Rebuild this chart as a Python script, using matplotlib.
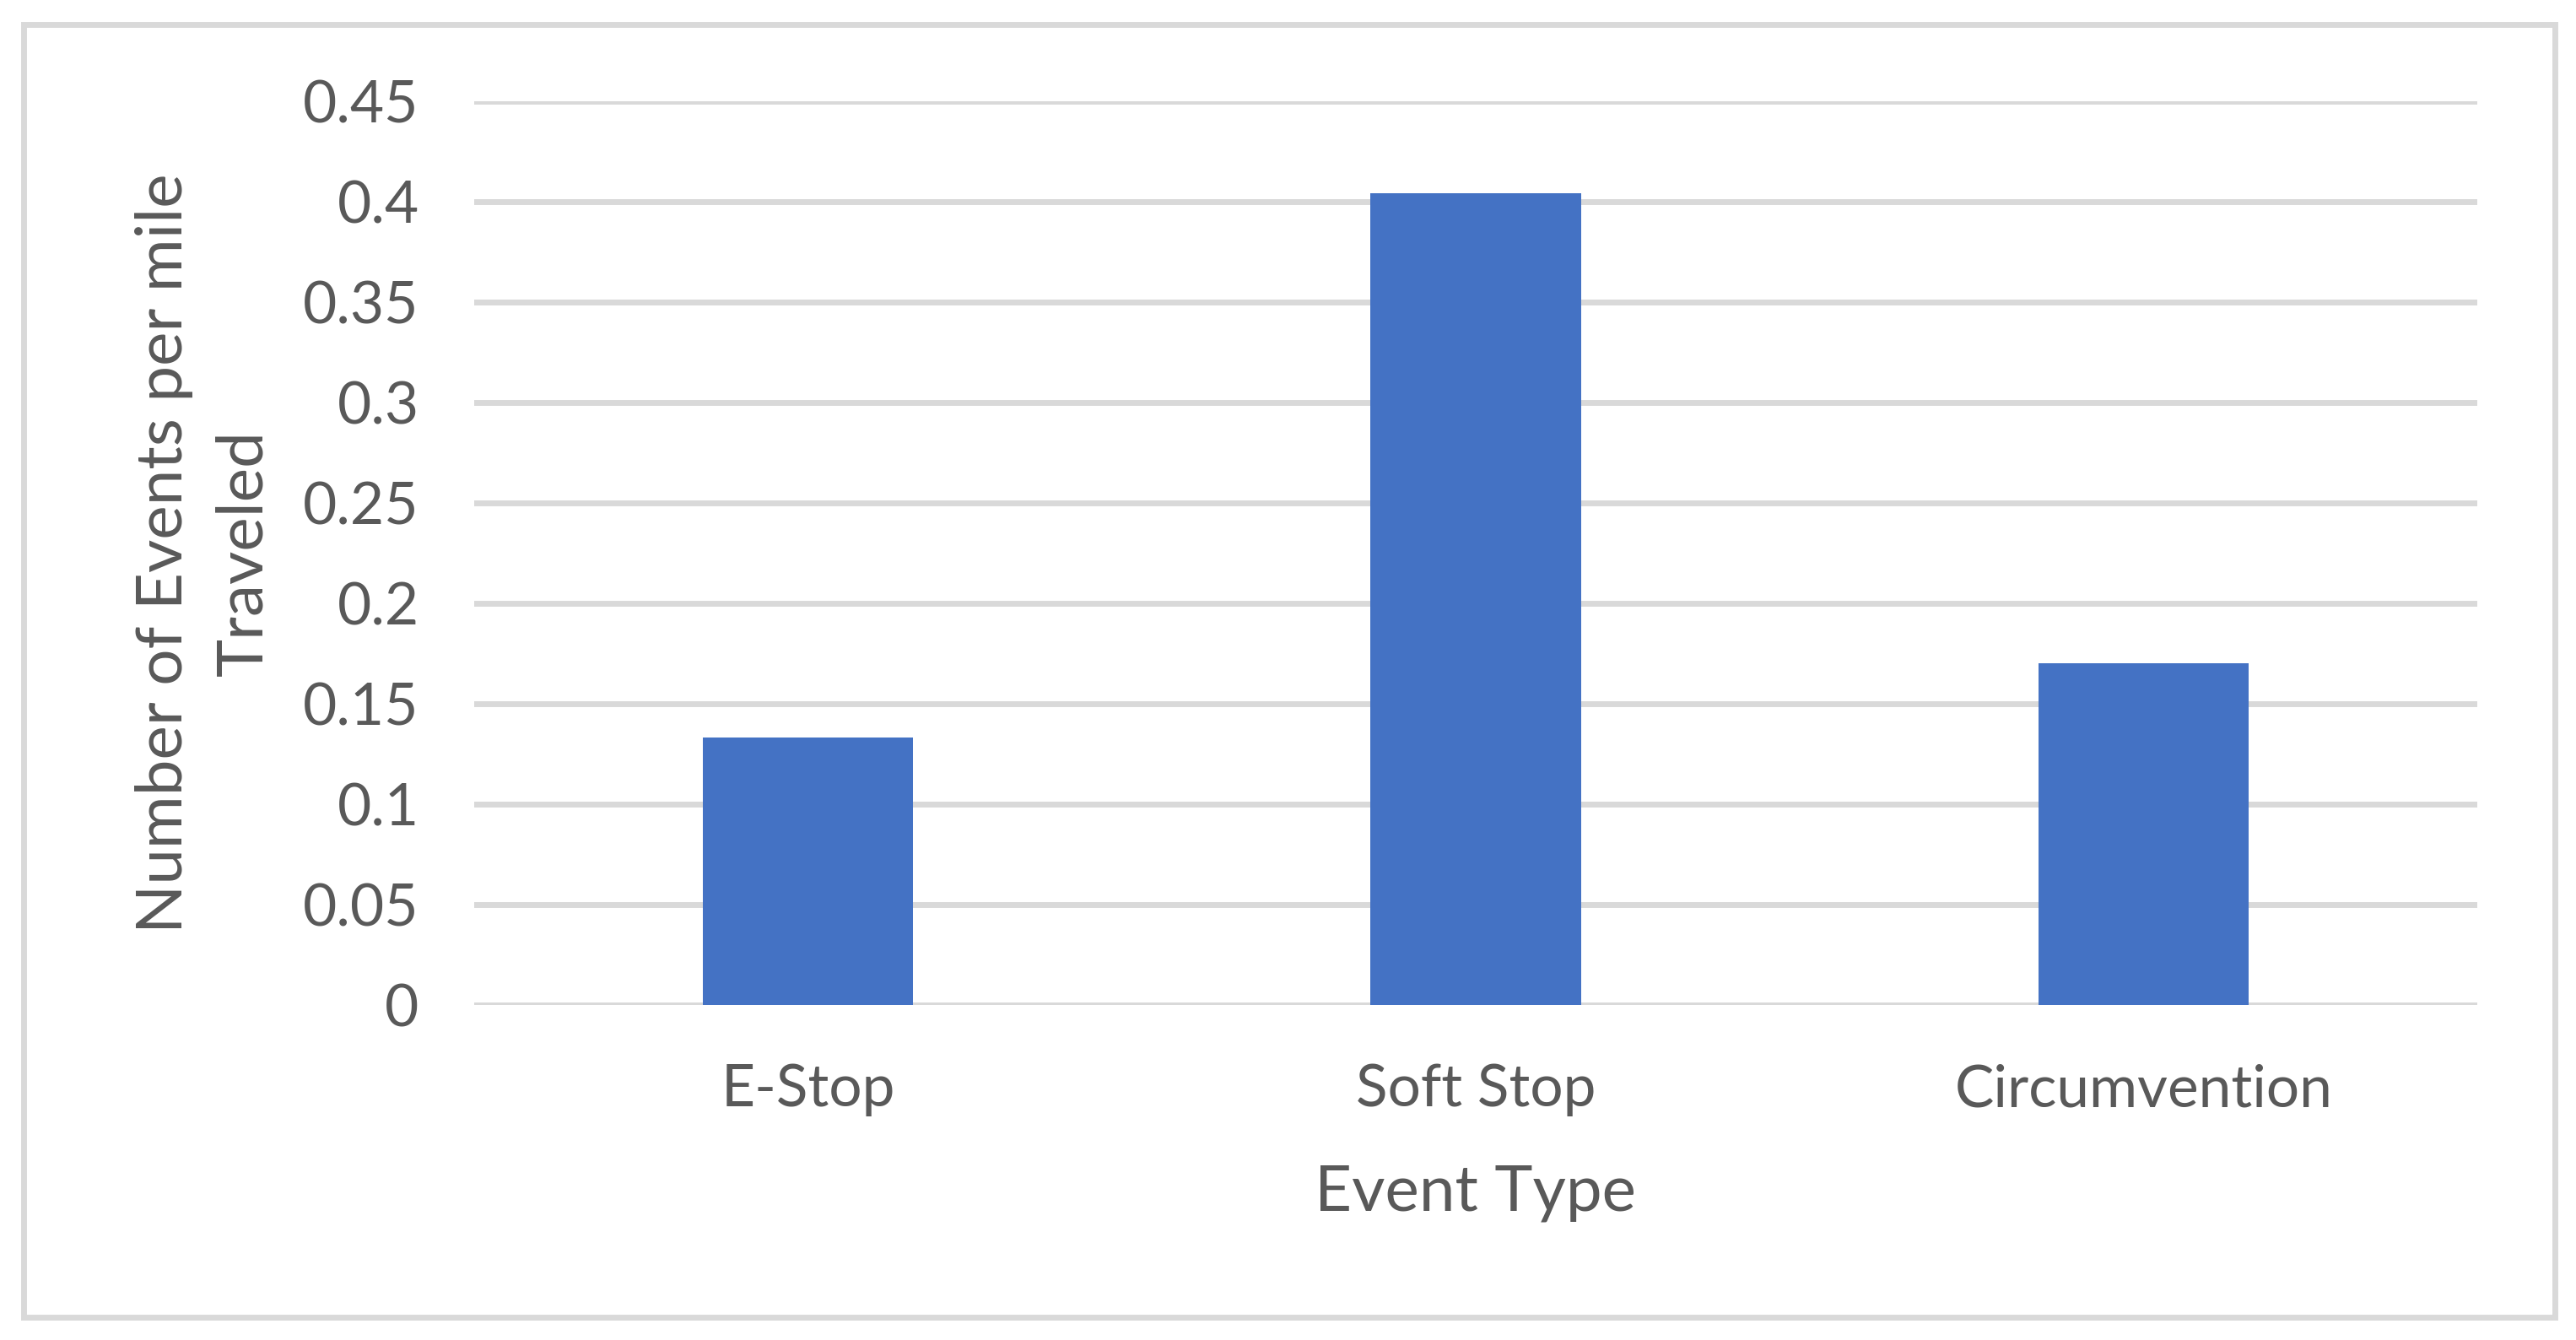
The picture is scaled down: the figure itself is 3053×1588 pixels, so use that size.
import matplotlib
matplotlib.use("Agg")
import matplotlib.pyplot as plt
from matplotlib.patches import Rectangle

categories = ["E-Stop", "Soft Stop", "Circumvention"]
values = [0.133, 0.404, 0.170]
yticks = [0, 0.05, 0.1, 0.15, 0.2, 0.25, 0.3, 0.35, 0.4, 0.45]
ytick_labels = ["0", "0.05", "0.1", "0.15", "0.2", "0.25", "0.3", "0.35", "0.4", "0.45"]

plt.rcParams['font.family'] = ['Lato', 'DejaVu Sans']
text_col = '#595959'
grid_col = '#d9d9d9'

fig = plt.figure(figsize=(30.53, 15.88), dpi=100)
ax = fig.add_axes([562/3053, 1-1191/1588, (2936-562)/3053, (1191-120)/1588])

x = range(len(categories))
ax.bar(x, values, width=0.315, color='#4472C4', zorder=3)

ax.set_xlim(-0.5, 2.5)
ax.set_ylim(0, 0.45)
ax.set_yticks(yticks)
ax.set_yticklabels(ytick_labels)
ax.set_xticks(list(x))
ax.set_xticklabels(categories)
ax.yaxis.grid(True, color=grid_col, linewidth=5, zorder=0)
ax.set_axisbelow(True)
for s in ax.spines.values():
    s.set_visible(False)
ax.tick_params(axis='both', length=0, labelsize=50, labelcolor=text_col)
ax.tick_params(axis='y', pad=47)
ax.tick_params(axis='x', pad=50)

ax.set_xlabel("Event Type", fontsize=55, color=text_col, labelpad=40)
ax.set_ylabel("Number of Events per mile\nTraveled", fontsize=55, color=text_col,
              labelpad=26, linespacing=1.45)

# chart border
fig.patches.append(Rectangle((27.5/3053, 1-1561/1588), (3028-27.5)/3053, (1561-28.5)/1588,
                             transform=fig.transFigure, fill=False,
                             edgecolor=grid_col, linewidth=5))

fig.savefig("out.png", dpi=100, facecolor='white')
